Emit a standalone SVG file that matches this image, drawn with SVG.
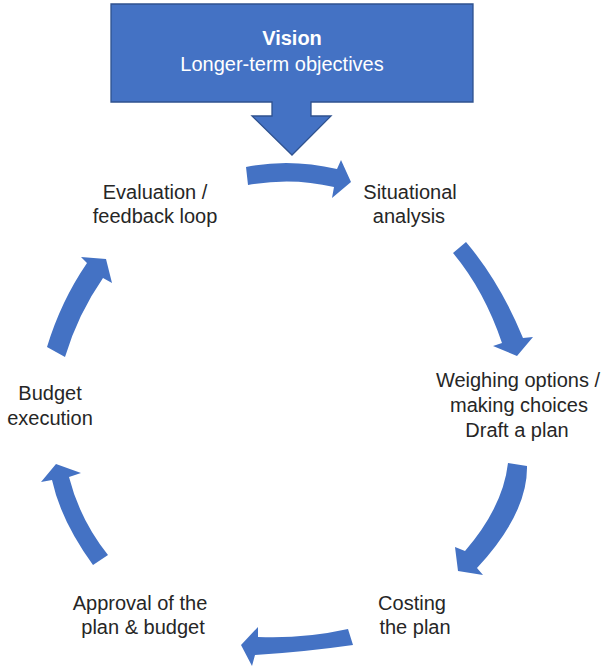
<svg xmlns="http://www.w3.org/2000/svg" width="603" height="668" viewBox="0 0 603 668">
<style>
.lbl{font-family:"Liberation Sans",Arial,sans-serif;font-size:20px;fill:#262626;text-anchor:middle}
.vt{font-family:"Liberation Sans",Arial,sans-serif;font-size:20px;fill:#ffffff;text-anchor:middle}
.arr{fill:#4472C4}
</style>
<rect width="603" height="668" fill="#ffffff"/>
<g id="vision">
<path d="M111,4 H473 V102 H311 V116 H331 L292,155 L252,116 H272 V102 H111 Z" fill="#4472C4" stroke="#2F528F" stroke-width="1.3"/>
<text class="vt" x="292" y="45" font-weight="bold">Vision</text>
<text class="vt" x="282" y="71">Longer-term objectives</text>
</g>
<g id="connectors">
<path class="arr" d="M246,167 Q290,158 337,169 L341,160 L351,182 L332,198 L334,187 Q292,177 248,185 Z"/>
<path class="arr" d="M453,253 L466,242 Q500,282 523,338 L533,337 L517,356 L493,346 L502,343 Q484,290 453,253 Z"/>
<path class="arr" d="M508,463 L527,466 Q528,513 477,568 L483,575 L458,571 L455,547 L465,551 Q503,507 508,463 Z"/>
<path class="arr" d="M348,629 Q303,639 258,637 L258,627 L241,645 L252,666 L255,655 Q304,652 353,645 Z"/>
<path class="arr" d="M108,555 Q80,520 69,477 L81,473 L56,464 L41,482 L52,480 Q61,521 93,565 Z"/>
<path class="arr" d="M47,347 Q61,301 87,263 L81,257 L106,259 L112,283 L103,278 Q78,314 65,357 Z"/>
</g>
<g id="situational">
<text class="lbl" x="410" y="199">Situational</text>
<text class="lbl" x="409" y="223">analysis</text>
</g>
<g id="weighing">
<text class="lbl" x="518" y="387">Weighing options /</text>
<text class="lbl" x="519" y="412">making choices</text>
<text class="lbl" x="517" y="437">Draft a plan</text>
</g>
<g id="costing">
<text class="lbl" x="412" y="610">Costing</text>
<text class="lbl" x="415" y="634">the plan</text>
</g>
<g id="approval">
<text class="lbl" x="140" y="610">Approval of the</text>
<text class="lbl" x="143" y="634">plan &amp; budget</text>
</g>
<g id="execution">
<text class="lbl" x="50" y="400">Budget</text>
<text class="lbl" x="50" y="425">execution</text>
</g>
<g id="evaluation">
<text class="lbl" x="155" y="199">Evaluation /</text>
<text class="lbl" x="155" y="223">feedback loop</text>
</g>
</svg>
